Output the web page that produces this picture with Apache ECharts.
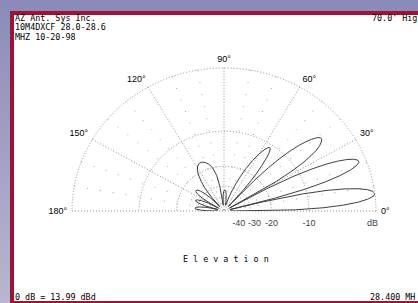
<!DOCTYPE html>
<html>
<head>
<meta charset="utf-8">
<script src="https://cdn.jsdelivr.net/npm/echarts@6/dist/echarts.min.js"></script>
<style>
  html, body { margin: 0; padding: 0; }
  body { width: 418px; height: 303px; position: relative; overflow: hidden; background: #fff; }
  .band-top { position: absolute; left: 0; top: 0; width: 418px; height: 11px; background: #8b8bb9; }
  .band-left { position: absolute; left: 0; top: 0; width: 10px; height: 303px; background: linear-gradient(#8b8bb9, #b7b7cf); }
  .red { position: absolute; background: #a31032; }
  .txt { position: absolute; font-family: 'DejaVu Sans Mono', monospace; font-size: 8.4px; line-height: 9.5px; color: #000; white-space: pre; }
  #chart { position: absolute; left: 0; top: 0; width: 418px; height: 303px; transform: scaleY(0.941); transform-origin: 0 211px; }
</style>
</head>
<body>
<div class="band-top"></div>
<div class="band-left"></div>
<div class="red" style="left:10px;top:11px;width:408px;height:4px"></div>
<div class="red" style="left:10px;top:11px;width:4px;height:292px"></div>
<div class="red" style="left:10px;top:301px;width:408px;height:2px"></div>
<div class="txt" style="left:15px;top:13.5px">AZ Ant. Sys Inc.
10M4DXCF 28.0-28.6
MHZ 10-20-98</div>
<div class="txt" style="left:372px;top:13.5px">70.0' Hig</div>
<div class="txt" style="left:183px;top:255px">E l e v a t i o n</div>
<div class="txt" style="left:15px;top:292.5px">0 dB = 13.99 dBd</div>
<div class="txt" style="left:370px;top:292.5px">28.400 MH</div>
<div id="chart"></div>
<script>
// elevation pattern: angle (deg) -> gain (dB)
const patternAngle = [
  0, 1, 2, 3, 4, 5, 6, 7, 8, 9, 10, 11, 12, 13, 14, 14.3,
  15, 16, 17, 18, 19, 20, 21, 22, 23, 24, 25, 26, 27, 28, 29, 29.8,
  31, 32, 33, 34, 35, 36, 37, 38, 39, 40, 41, 42, 43, 44, 45, 46, 47, 48,
  49, 50, 51, 52, 53, 54, 55, 56, 57, 58, 60, 62, 64, 66, 68, 70, 72, 75,
  80, 83, 85, 87, 89, 91, 93, 95, 97,
  99, 101, 104, 107, 110, 113, 116, 119, 122, 124, 126, 128, 130, 132,
  134, 136, 138, 140, 142, 144, 146, 148, 149.5, 150.5,
  152, 154, 156, 158, 160, 162, 164, 165.7,
  167, 168, 170, 172, 174, 176, 178, 179, 180
]
const patternDb = [
  -55, -13, -7.2, -4.1, -2.1, -0.9, -0.2, 0, -0.2, -0.8, -1.9, -3.6, -6.3, -10.9, -23, -55,
  -18, -10, -6.1, -3.7, -2.2, -1.3, -0.85, -0.9, -1.3, -2.1, -3.3, -5.0, -7.6, -11.6, -19.5, -55,
  -15.7, -11, -8.2, -6.4, -5.1, -4.3, -3.8, -3.5, -3.5, -3.9, -4.6, -5.6, -6.9, -8.7, -11.2, -14.8, -21.5, -55,
  -28, -22, -18, -15.5, -13, -11.6, -10.9, -10.7, -11, -11.6, -13.3, -15.8, -19, -23, -28, -34, -42, -55,
  -44, -37, -34, -33, -33, -34.5, -38, -46, -55,
  -30, -23.5, -20, -18.4, -17.5, -17, -17, -17.6, -19, -21, -23.5, -27, -33, -55,
  -36, -30, -27, -25.5, -25, -25.3, -27, -31, -40, -55,
  -37, -31, -28.5, -27.5, -28, -30, -35, -55,
  -40, -36, -31, -29, -28.3, -29, -33, -38, -55
]

// ARRL log scale rings and their labels along the baseline
const gridDb = [0, -10, -20, -30, -40]
const gridLabels = ['dB', '-10', '-20', '-30', '-40']

const R = 152
const CENTER = [224, 211]
const arrl = db => Math.pow(0.89, -db / 2)

const dotted = { color: '#8a8a8a', width: 1, type: [1, 2] }

const polar = gridDb.map(db => ({ center: CENTER, radius: R * arrl(db) }))

const angleAxis = gridDb.map((db, i) => ({
  polarIndex: i,
  type: 'value',
  min: 0,
  max: 180,
  interval: 30,
  startAngle: 0,
  endAngle: 180,
  clockwise: false,
  axisLine: { show: true, lineStyle: dotted },
  axisTick: { show: false },
  axisLabel: {
    show: i === 0,
    margin: 5,
    color: '#000',
    fontSize: 9,
    fontFamily: 'Liberation Sans',
    formatter: v => v + '°'
  },
  splitLine: { show: i === 0, lineStyle: dotted },
  minorTick: { show: false, splitNumber: 3 },
  minorSplitLine: { show: i === 0, lineStyle: { color: '#9a9a9a', width: 1, type: [1, 12] } },
  splitArea: { show: false }
}))

const radiusAxis = gridDb.map((db, i) => ({
  polarIndex: i,
  type: 'value',
  min: 0,
  max: 1,
  show: false
}))

const labelData = gridDb.map((db, i) => {
  const item = { value: [arrl(db), 0] }
  if (gridLabels[i] === 'dB') item.label = { align: 'right', offset: [2, 12.75] }
  if (db === -30) item.label = { offset: [4, 12.75] }
  return item
})

const chart = echarts.init(document.getElementById('chart'), null, { renderer: 'svg' })

chart.setOption({
  animation: false,
  polar: polar,
  angleAxis: angleAxis,
  radiusAxis: radiusAxis,
  series: [
    {
      type: 'line',
      coordinateSystem: 'polar',
      polarIndex: 0,
      symbol: 'none',
      smooth: false,
      lineStyle: { color: '#3a3a3a', width: 1 },
      data: patternAngle.map((a, i) => [arrl(patternDb[i]), a])
    },
    {
      type: 'scatter',
      coordinateSystem: 'polar',
      polarIndex: 0,
      symbolSize: 1,
      itemStyle: { color: 'transparent' },
      label: {
        show: true,
        position: 'inside',
        offset: [0, 12.75],
        color: '#000',
        fontSize: 9,
        fontFamily: 'Liberation Sans',
        formatter: p => gridLabels[p.dataIndex]
      },
      data: labelData
    }
  ]
})
</script>
</body>
</html>
